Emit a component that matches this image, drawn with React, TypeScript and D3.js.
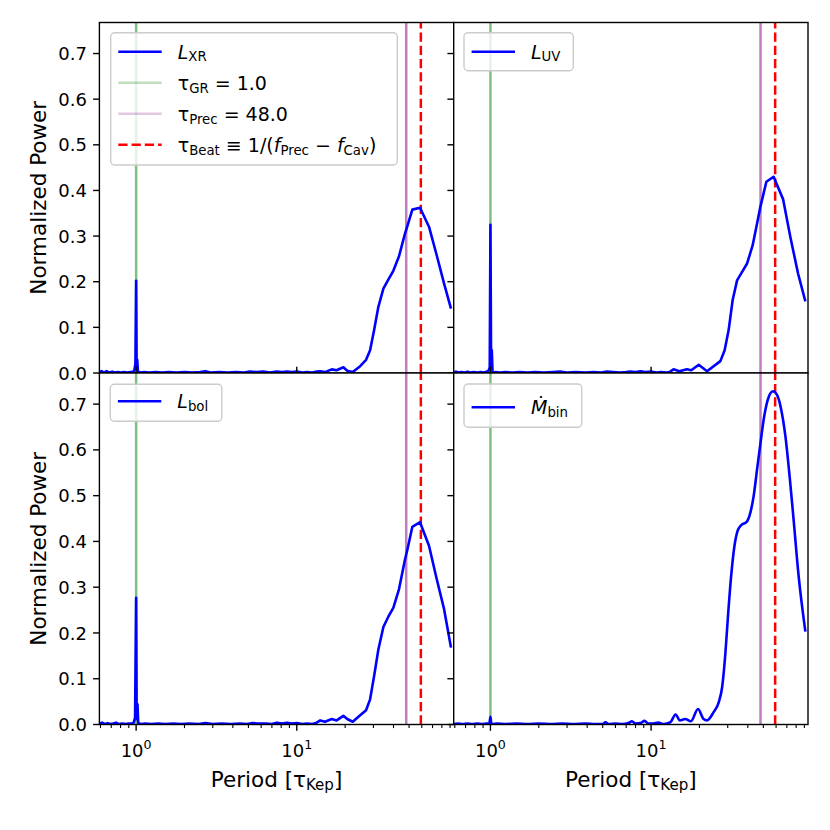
import React from 'react';
import * as d3 from 'd3';

// [period in tau_Kep, normalized power]
const xrSeries: [number, number][] = [
  [0.59, 0.002], [0.61, 0.004], [0.63, 0.001], [0.655, 0.004], [0.68, 0.001], [0.71, 0.003],
  [0.74, 0.001], [0.77, 0.002], [0.8, 0.001], [0.84, 0.002], [0.88, 0.001], [0.92, 0.002],
  [0.95, 0.002], [0.975, 0.006], [0.99, 0.02], [1.0, 0.202], [1.007, 0.012], [1.016, 0.029],
  [1.026, 0.004], [1.04, 0.002], [1.07, 0.001], [1.12, 0.002], [1.2, 0.001], [1.32, 0.002],
  [1.45, 0.001], [1.6, 0.002], [1.78, 0.001], [2.0, 0.002], [2.25, 0.001], [2.5, 0.002],
  [2.7, 0.004], [2.9, 0.001], [3.3, 0.002], [3.7, 0.001], [4.2, 0.002], [4.7, 0.001],
  [5.1, 0.003], [5.6, 0.002], [6.2, 0.003], [6.8, 0.001], [7.5, 0.003], [8.1, 0.002],
  [8.7, 0.003], [9.3, 0.002], [10.0, 0.003], [10.8, 0.001], [11.6, 0.002], [12.5, 0.001],
  [13.3, 0.003], [14.0, 0.004], [15.0, 0.002], [16.5, 0.008], [17.7, 0.006], [19.5, 0.0125],
  [20.6, 0.005], [22.3, 0.002], [24.8, 0.015], [27.0, 0.029], [28.6, 0.05], [30.3, 0.094],
  [32.2, 0.145], [34.6, 0.185], [37.2, 0.205], [39.9, 0.224], [43.3, 0.256], [47.2, 0.306],
  [48.8, 0.322], [52.4, 0.358], [58.5, 0.362], [66.6, 0.32], [74.3, 0.258], [82.6, 0.196],
  [91.2, 0.141],
];

const uvSeries: [number, number][] = [
  [0.59, 0.001], [0.61, 0.003], [0.635, 0.001], [0.66, 0.002], [0.69, 0.001], [0.72, 0.003],
  [0.75, 0.001], [0.79, 0.002], [0.83, 0.001], [0.87, 0.002], [0.91, 0.001], [0.945, 0.003],
  [0.97, 0.004], [0.99, 0.012], [1.0, 0.325], [1.01, 0.012], [1.02, 0.05], [1.03, 0.004],
  [1.045, 0.001], [1.08, 0.002], [1.14, 0.001], [1.24, 0.002], [1.37, 0.001], [1.52, 0.002],
  [1.7, 0.001], [1.9, 0.002], [2.15, 0.001], [2.45, 0.002], [2.7, 0.003], [3.0, 0.001],
  [3.4, 0.002], [3.9, 0.001], [4.4, 0.002], [4.9, 0.001], [5.3, 0.003], [5.8, 0.002],
  [6.4, 0.001], [7.0, 0.002], [7.4, 0.003], [8.0, 0.002], [8.6, 0.004], [9.2, 0.002],
  [10.0, 0.003], [10.8, 0.001], [11.5, 0.002], [12.5, 0.001], [13.0, 0.002], [13.8, 0.008],
  [15.0, 0.004], [16.7, 0.008], [17.8, 0.006], [19.8, 0.018], [22.3, 0.004], [27.0, 0.026],
  [28.7, 0.05], [30.4, 0.094], [32.2, 0.16], [34.3, 0.203], [36.8, 0.221], [39.6, 0.24],
  [42.9, 0.28], [45.7, 0.328], [47.9, 0.364], [52.2, 0.419], [57.9, 0.43], [66.3, 0.381],
  [73.6, 0.298], [82.2, 0.218], [91.3, 0.157],
];

const bolSeries: [number, number][] = [
  [0.59, 0.002], [0.615, 0.004], [0.64, 0.001], [0.665, 0.003], [0.69, 0.001], [0.72, 0.002],
  [0.75, 0.004], [0.78, 0.001], [0.82, 0.002], [0.86, 0.001], [0.9, 0.002], [0.94, 0.002],
  [0.965, 0.004], [0.985, 0.015], [1.0, 0.277], [1.008, 0.012], [1.02, 0.044], [1.03, 0.004],
  [1.045, 0.002], [1.08, 0.001], [1.14, 0.002], [1.24, 0.001], [1.37, 0.002], [1.52, 0.001],
  [1.7, 0.002], [1.9, 0.001], [2.15, 0.002], [2.45, 0.001], [2.7, 0.003], [3.0, 0.001],
  [3.4, 0.002], [3.9, 0.001], [4.4, 0.002], [4.9, 0.001], [5.3, 0.003], [5.8, 0.002],
  [6.4, 0.002], [7.0, 0.001], [7.5, 0.004], [8.1, 0.002], [8.7, 0.004], [9.3, 0.002],
  [10.0, 0.003], [10.8, 0.001], [11.6, 0.002], [12.5, 0.001], [13.3, 0.004], [14.0, 0.009],
  [15.0, 0.006], [16.5, 0.012], [17.7, 0.009], [19.5, 0.019], [20.6, 0.012], [22.3, 0.006],
  [24.8, 0.02], [27.0, 0.031], [28.6, 0.055], [30.3, 0.106], [32.2, 0.164], [34.6, 0.213],
  [37.2, 0.236], [39.9, 0.255], [43.3, 0.296], [47.2, 0.361], [48.8, 0.382], [52.4, 0.432],
  [58.5, 0.442], [66.6, 0.39], [74.3, 0.318], [82.6, 0.252], [91.2, 0.168],
];

const mdotSeries: [number, number][] = [
  [0.59, 0.001], [0.63, 0.002], [0.67, 0.001], [0.72, 0.002], [0.77, 0.001], [0.83, 0.002],
  [0.89, 0.001], [0.95, 0.002], [0.985, 0.003], [1.0, 0.017], [1.012, 0.003], [1.03, 0.001],
  [1.1, 0.002], [1.25, 0.001], [1.45, 0.002], [1.7, 0.001], [2.0, 0.002], [2.4, 0.001],
  [2.8, 0.002], [3.3, 0.001], [3.9, 0.002], [4.5, 0.001], [5.0, 0.001], [5.2, 0.005],
  [5.45, 0.001], [6.0, 0.002], [6.6, 0.001], [7.3, 0.004], [7.6, 0.007], [8.0, 0.002],
  [8.6, 0.003], [9.1, 0.008], [9.6, 0.002], [10.3, 0.002], [11.1, 0.004], [12.0, 0.001],
  [13.2, 0.005], [14.2, 0.022], [15.1, 0.009], [16.3, 0.012], [17.7, 0.007], [19.6, 0.034],
  [21.2, 0.012], [22.3, 0.009], [24.5, 0.027], [26.4, 0.049], [27.7, 0.082], [29.0, 0.155],
  [30.1, 0.236], [31.5, 0.324], [33.0, 0.389], [34.8, 0.426], [36.8, 0.437], [39.2, 0.442],
  [41.5, 0.463], [43.5, 0.499], [45.7, 0.558], [47.9, 0.613], [50.7, 0.675], [53.9, 0.715],
  [57.4, 0.728], [60.8, 0.72], [64.4, 0.69], [68.5, 0.631], [72.8, 0.543], [77.1, 0.448],
  [82.9, 0.324], [91.3, 0.203],
];

const tauGR = 1.0;
const tauPrec = 48.0;
const tauBeat = 59.2;

const yTicks = [0, 0.1, 0.2, 0.3, 0.4, 0.5, 0.6, 0.7];
const xMajorTicks = [1, 10];
const xMajorExp = ['0', '1'];
const xMinorTicks = [0.6, 0.7, 0.8, 0.9, 2, 3, 4, 5, 6, 7, 8, 9, 20, 30, 40, 50, 60, 70, 80, 90];

const xDomain: [number, number] = [0.5907, 94.8];
const yDomain: [number, number] = [0, 0.768];

const W = 830;
const H = 830;
const colX = [[99.4, 453.7], [453.7, 808]];
const rowY = [[22.5, 373], [373, 724.5]];
const FONT = "'DejaVu Sans', sans-serif";
const TICK_FS = 18;
const LABEL_FS = 21.5;
const LEG_FS = 19;
const SUB = 0.7;
const SUB_FS = LEG_FS * SUB;

const GREEN = '#008000';
const PURPLE = '#800080';
const RED = '#ff0000';
const BLUE = '#0000ff';

type LegendKind = 'xr' | 'uv' | 'bol' | 'mdot';

const panels: { key: LegendKind; data: [number, number][]; col: number; row: number }[] = [
  { key: 'xr', data: xrSeries, col: 0, row: 0 },
  { key: 'uv', data: uvSeries, col: 1, row: 0 },
  { key: 'bol', data: bolSeries, col: 0, row: 1 },
  { key: 'mdot', data: mdotSeries, col: 1, row: 1 },
];

const legendPos: Record<LegendKind, [number, number]> = {
  xr: [110.7, 32.7],
  uv: [464, 32.7],
  bol: [110.3, 384.3],
  mdot: [464, 384],
};

const legendBox: Record<LegendKind, [number, number]> = {
  xr: [286.6, 132.3],
  uv: [109.3, 38],
  bol: [111.5, 37],
  mdot: [117.7, 43.3],
};

// legend texts, subscripts dropped a few pixels and restored on the next piece
const mainLabel: Record<LegendKind, React.ReactNode> = {
  xr: <><tspan fontStyle="italic">L</tspan><tspan fontSize={SUB_FS} dy={2.5}>XR</tspan></>,
  uv: <><tspan fontStyle="italic">L</tspan><tspan fontSize={SUB_FS} dy={2.5}>UV</tspan></>,
  bol: <><tspan fontStyle="italic">L</tspan><tspan fontSize={SUB_FS} dy={2.5}>bol</tspan></>,
  mdot: <><tspan fontStyle="italic">{'\u1E40'}</tspan><tspan fontSize={SUB_FS} dy={2.5}>bin</tspan></>,
};

const grLabel = (
  <>τ<tspan fontSize={SUB_FS} dy={3}>GR</tspan><tspan dy={-3}>{' = 1.0'}</tspan></>
);
const precLabel = (
  <>τ<tspan fontSize={SUB_FS} dy={3}>Prec</tspan><tspan dy={-3}>{' = 48.0'}</tspan></>
);
const beatLabel = (
  <>
    τ<tspan fontSize={SUB_FS} dy={3}>Beat</tspan>
    <tspan dy={-3}>{' \u2261 1/('}</tspan>
    <tspan fontStyle="italic">f</tspan>
    <tspan fontSize={SUB_FS} dy={3}>Prec</tspan>
    <tspan dy={-3}>{' \u2212 '}</tspan>
    <tspan fontStyle="italic">f</tspan>
    <tspan fontSize={SUB_FS} dy={3}>Cav</tspan>
    <tspan dy={-3}>)</tspan>
  </>
);

function Legend({ kind }: { kind: LegendKind }) {
  const [x0, y0] = legendPos[kind];
  const [bw, bh] = legendBox[kind];
  const rowStep = 31;
  const firstRow = kind === 'mdot' ? 23.3 : kind === 'bol' ? 17 : 19;
  const hx0 = x0 + 7.6;
  const hx1 = x0 + 51;
  const tx = x0 + 67;
  const entries: { color: string; opacity: number; dash?: string; text: React.ReactNode }[] = [
    { color: BLUE, opacity: 1, text: mainLabel[kind] },
  ];
  if (kind === 'xr') {
    entries.push({ color: GREEN, opacity: 0.25, text: grLabel });
    entries.push({ color: PURPLE, opacity: 0.22, text: precLabel });
    entries.push({ color: RED, opacity: 1, dash: '9.25 4', text: beatLabel });
  }
  return (
    <g>
      <rect x={x0} y={y0} width={bw} height={bh} rx={4} fill="#fff" fillOpacity={0.8} stroke="#cccccc" strokeWidth={1.4} />
      {entries.map((e, i) => {
        const cy = y0 + firstRow + i * rowStep;
        return (
          <g key={i}>
            <line x1={hx0} x2={hx1} y1={cy} y2={cy} stroke={e.color} strokeOpacity={e.opacity} strokeWidth={2.5} strokeDasharray={e.dash} />
            <text x={tx} y={cy + 6.8} fontSize={LEG_FS} fontFamily={FONT} fill="#000">
              {e.text}
            </text>
          </g>
        );
      })}
    </g>
  );
}

function Panel({ p }: { p: (typeof panels)[number] }) {
  const [xa, xb] = colX[p.col];
  const [ya, yb] = rowY[p.row];
  const x = d3.scaleLog().domain(xDomain).range([xa, xb]);
  const y = d3.scaleLinear().domain(yDomain).range([yb, ya]);
  const curve = p.key === 'mdot' ? d3.curveMonotoneX : d3.curveLinear;
  const line = d3
    .line<[number, number]>()
    .x((d) => x(d[0]))
    .y((d) => y(d[1]))
    .curve(curve);
  const clipId = `clip-${p.key}`;
  const isBottom = p.row === 1;
  const isLeft = p.col === 0;
  const midX = (xa + xb) / 2;
  const midY = (ya + yb) / 2;

  return (
    <g>
      <defs>
        <clipPath id={clipId}>
          <rect x={xa} y={ya} width={xb - xa} height={yb - ya} />
        </clipPath>
      </defs>
      <rect x={xa} y={ya} width={xb - xa} height={yb - ya} fill="#fff" />
      <g clipPath={`url(#${clipId})`}>
        <line x1={x(tauGR)} x2={x(tauGR)} y1={yb} y2={ya} stroke={GREEN} strokeOpacity={0.5} strokeWidth={2.5} />
        <line x1={x(tauPrec)} x2={x(tauPrec)} y1={yb} y2={ya} stroke={PURPLE} strokeOpacity={0.5} strokeWidth={2.5} />
        <line x1={x(tauBeat)} x2={x(tauBeat)} y1={yb} y2={ya} stroke={RED} strokeWidth={2.5} strokeDasharray="9.25 4" />
        <path d={line(p.data) || ''} fill="none" stroke={BLUE} strokeWidth={2.6} strokeLinejoin="round" />
      </g>

      {/* y ticks */}
      {yTicks.map((t) => (
        <g key={`y${t}`}>
          <line x1={xa - 6.3} x2={xa} y1={y(t)} y2={y(t)} stroke="#000" strokeWidth={1.4} />
          {isLeft && (
            <text x={xa - 12.5} y={y(t) + 6.6} textAnchor="end" fontSize={TICK_FS} fontFamily={FONT}>
              {t.toFixed(1)}
            </text>
          )}
        </g>
      ))}

      {/* x ticks */}
      {isBottom ? (
        <>
          {xMinorTicks.map((t) => (
            <line key={`m${t}`} x1={x(t)} x2={x(t)} y1={yb} y2={yb + 3.6} stroke="#000" strokeWidth={1.1} />
          ))}
          {xMajorTicks.map((t, i) => (
            <g key={`M${t}`}>
              <line x1={x(t)} x2={x(t)} y1={yb} y2={yb + 6.3} stroke="#000" strokeWidth={1.4} />
              <text x={x(t)} y={yb + 32.2} textAnchor="middle" fontSize={TICK_FS} fontFamily={FONT}>
                10<tspan fontSize={TICK_FS * SUB} dy={-7.5}>{xMajorExp[i]}</tspan>
              </text>
            </g>
          ))}
          <text x={midX} y={786.7} textAnchor="middle" fontSize={LABEL_FS} fontFamily={FONT}>
            {'Period [τ'}
            <tspan fontSize={LABEL_FS * SUB} dy={3.5}>Kep</tspan>
            <tspan dy={-3.5}>]</tspan>
          </text>
        </>
      ) : (
        xMajorTicks.map((t) => (
          <line key={`u${t}`} x1={x(t)} x2={x(t)} y1={yb} y2={yb - 6.3} stroke="#000" strokeWidth={1.4} />
        ))
      )}

      {isLeft && (
        <text transform={`translate(45.5, ${midY}) rotate(-90)`} textAnchor="middle" fontSize={LABEL_FS} fontFamily={FONT}>
          Normalized Power
        </text>
      )}

      <rect x={xa} y={ya} width={xb - xa} height={yb - ya} fill="none" stroke="#000" strokeWidth={1.4} />
    </g>
  );
}

export default function App() {
  return (
    <>
      <style>{'body{margin:0;}'}</style>
      <svg width={W} height={H} viewBox={`0 0 ${W} ${H}`} style={{ display: 'block', background: '#fff' }}>
        <rect width={W} height={H} fill="#fff" />
        {panels.map((p) => (
          <Panel key={p.key} p={p} />
        ))}
        {panels.map((p) => (
          <Legend key={`l${p.key}`} kind={p.key} />
        ))}
      </svg>
    </>
  );
}
